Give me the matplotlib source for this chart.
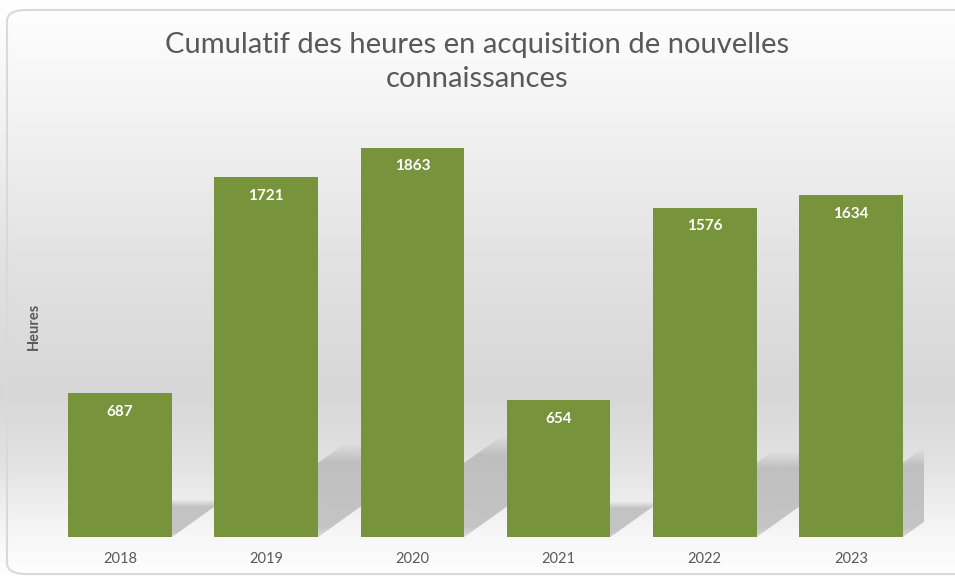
import numpy as np
import matplotlib
matplotlib.use("Agg")
from matplotlib import pyplot as plt
from matplotlib.patches import FancyBboxPatch, Polygon
from matplotlib.colors import LinearSegmentedColormap

# data
years = ["2018", "2019", "2020", "2021", "2022", "2023"]
hours = [687, 1721, 1863, 654, 1576, 1634]

title = "Cumulatif des heures en acquisition de nouvelles\nconnaissances"
ylabel = "Heures"

bar_color = "#77933C"
text_gray = "#595959"

plt.rcParams['font.family'] = ['Lato', 'DejaVu Sans']

W, H = 955, 578
fig = plt.figure(figsize=(W / 100, H / 100), dpi=100)

# background gradient over the whole chart area (Excel style)
bg = fig.add_axes([0, 0, 1, 1], zorder=-10)
stops = [(0.0, "#ffffff"), (0.18, "#f4f4f4"), (0.45, "#e2e2e2"),
         (0.68, "#d7d7d7"), (0.80, "#e2e2e2"), (0.92, "#f6f6f6"), (1.0, "#ffffff")]
cmap = LinearSegmentedColormap.from_list("bg", stops)
grad = np.linspace(0, 1, 256).reshape(-1, 1)
bg.imshow(grad, aspect="auto", cmap=cmap, extent=[0, 1, 0, 1], origin="upper")
bg.set_xlim(0, 1)
bg.set_ylim(0, 1)
bg.axis("off")

# rounded chart border
frame = FancyBboxPatch((7 / W, 4 / H), (W + 20) / W, (H - 14) / H,
                       boxstyle="round,pad=0,rounding_size=0.02",
                       transform=fig.transFigure, fill=False,
                       edgecolor="#d9d9d9", linewidth=1.5)
fig.patches.append(frame)

ax = fig.add_axes([47 / W, (H - 537) / H, 877 / W, 418 / H])
ax.set_facecolor("none")

x = np.arange(len(years))
width = 0.71

# perspective shadows behind the bars, soft at the far end
t = np.linspace(0, 1, 200)
alpha = 0.7 * np.minimum(1, (1 - t) / 0.2) * np.minimum(1, 0.6 + t * 4)
shade = np.zeros((200, 1, 4))
shade[..., :3] = 0xb0 / 255
shade[:, 0, 3] = alpha
for xi, h in zip(x, hours):
    x0, x1 = xi - width / 2, xi + width / 2
    dx = 0.00052 * h
    dy = 0.26 * h
    poly = Polygon([(x0, 0), (x1, 0), (x1 + dx, dy), (x0 + dx, dy)],
                   closed=True, facecolor="none", edgecolor="none")
    ax.add_patch(poly)
    im = ax.imshow(shade, extent=[x0, x1 + dx, 0, dy], origin="lower",
                   aspect="auto", zorder=1, interpolation="bilinear")
    im.set_clip_path(poly)

bars = ax.bar(x, hours, width=width, color=bar_color, zorder=3)

for b, h in zip(bars, hours):
    ax.text(b.get_x() + b.get_width() / 2, h - 88, str(h), ha="center",
            va="center", color="white", fontsize=11, fontweight="bold",
            zorder=4)

ax.set_xlim(-0.5, 5.5)
ax.set_ylim(0, 2000)
ax.set_xticks(x)
ax.set_xticklabels(years, color=text_gray, fontsize=10.5)
ax.set_yticks([])
ax.tick_params(axis="x", length=0, pad=11)
for s in ax.spines.values():
    s.set_visible(False)

ax.set_ylabel(ylabel, color=text_gray, fontsize=10.5, fontweight="bold")
ax.yaxis.set_label_coords(-0.007, 0.505)

fig.text(0.5, 1 - 62 / H, title, ha="center", va="center", color=text_gray,
         fontsize=21, fontweight="normal", linespacing=1.4)

fig.savefig("out.png", dpi=100)
